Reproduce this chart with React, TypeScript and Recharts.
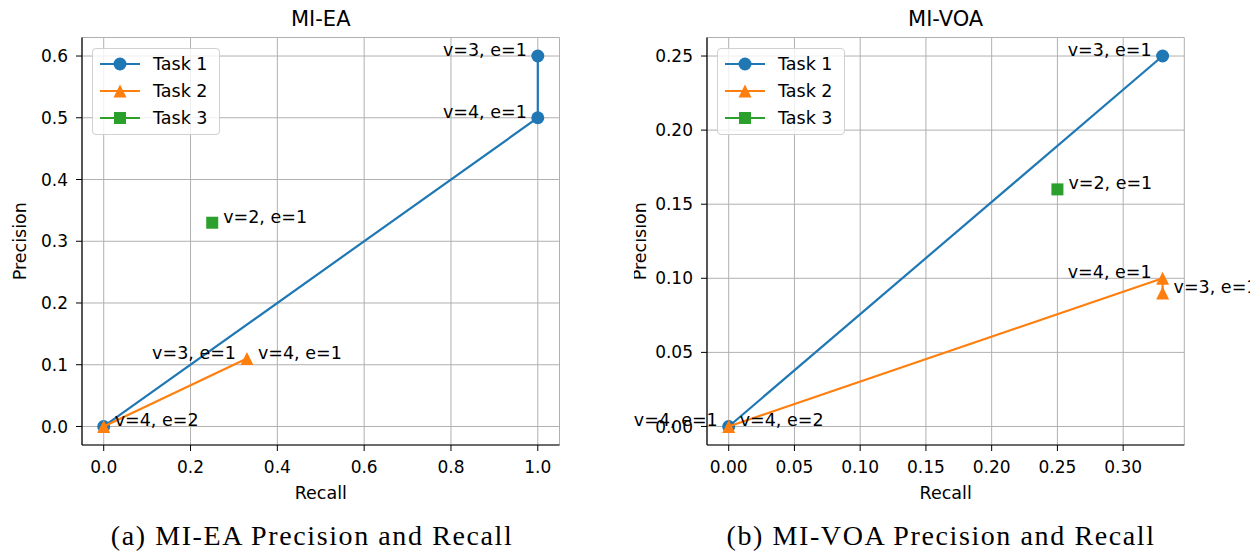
import React from "react";
import { ScatterChart, Scatter, XAxis, YAxis, CartesianGrid, Label } from "recharts";

const BLUE = "#1f77b4";
const ORANGE = "#ff7f0e";
const GREEN = "#2ca02c";
const FONT = "'DejaVu Sans', sans-serif";

// MI-EA (left panel)
const eaTask1 = [{ x: 0, y: 0 }, { x: 1, y: 0.5 }, { x: 1, y: 0.6 }];
const eaTask2 = [{ x: 0, y: 0 }, { x: 0.33, y: 0.11 }];
const eaTask3 = [{ x: 0.25, y: 0.33 }];
const eaNotesLeft = [
  { x: 1, y: 0.6, text: "v=3, e=1" },
  { x: 1, y: 0.5, text: "v=4, e=1" },
  { x: 0.33, y: 0.11, text: "v=3, e=1" },
];
const eaNotesRight = [
  { x: 0, y: 0, text: "v=4, e=2" },
  { x: 0.33, y: 0.11, text: "v=4, e=1" },
  { x: 0.25, y: 0.33, text: "v=2, e=1" },
];
const eaXTicks = [0, 0.2, 0.4, 0.6, 0.8, 1.0];
const eaYTicks = [0, 0.1, 0.2, 0.3, 0.4, 0.5, 0.6];

// MI-VOA (right panel)
const voaTask1 = [{ x: 0, y: 0 }, { x: 0.33, y: 0.25 }];
const voaTask2 = [{ x: 0, y: 0 }, { x: 0.33, y: 0.1 }, { x: 0.33, y: 0.09 }];
const voaTask3 = [{ x: 0.25, y: 0.16 }];
const voaNotesLeft = [
  { x: 0.33, y: 0.25, text: "v=3, e=1" },
  { x: 0, y: 0, text: "v=4, e=1" },
  { x: 0.33, y: 0.1, text: "v=4, e=1" },
];
const voaNotesRight = [
  { x: 0, y: 0, text: "v=4, e=2" },
  { x: 0.33, y: 0.09, text: "v=3, e=1" },
  { x: 0.25, y: 0.16, text: "v=2, e=1" },
];
const voaXTicks = [0, 0.05, 0.1, 0.15, 0.2, 0.25, 0.3];
const voaYTicks = [0, 0.05, 0.1, 0.15, 0.2, 0.25];

const taskNames = ["Task 1", "Task 2", "Task 3"];
const taskColors = [BLUE, ORANGE, GREEN];
const taskMarkers = ["circle", "triangle", "square"];

function Marker({ kind, cx, cy, color }: any) {
  if (kind === "circle") return <circle cx={cx} cy={cy} r={6.5} fill={color} />;
  if (kind === "triangle")
    return <polygon points={`${cx},${cy - 6.5} ${cx - 6.5},${cy + 6.5} ${cx + 6.5},${cy + 6.5}`} fill={color} />;
  return <rect x={cx - 6} y={cy - 6} width={12} height={12} fill={color} />;
}

const noteShape = (side: "left" | "right") => (p: any) => (
  <text
    x={p.cx + (side === "left" ? -11 : 11)}
    y={p.cy}
    textAnchor={side === "left" ? "end" : "start"}
    fontSize={17.5}
    fontFamily={FONT}
    fill="#000"
  >
    {p.payload.text}
  </text>
);

function Legend({ left, top }: any) {
  return (
    <div
      style={{
        position: "absolute",
        left,
        top,
        width: 128,
        height: 87,
        boxSizing: "border-box",
        border: "1px solid #d0d0d0",
        borderRadius: 4,
        background: "rgba(255,255,255,0.8)",
      }}
    >
      {taskNames.map((name, i) => (
        <div key={name} style={{ position: "absolute", left: 0, top: 4 + i * 27, height: 22, width: 128 }}>
          <svg width={50} height={22} style={{ position: "absolute", left: 5, top: 0 }}>
            <line x1={2} y1={11} x2={42} y2={11} stroke={taskColors[i]} strokeWidth={2.2} />
            <Marker kind={taskMarkers[i]} cx={22} cy={11} color={taskColors[i]} />
          </svg>
          <span
            style={{
              position: "absolute",
              left: 60,
              top: 0,
              lineHeight: "22px",
              fontSize: 17.5,
              fontFamily: FONT,
              color: "#000",
            }}
          >
            {name}
          </span>
        </div>
      ))}
    </div>
  );
}

function Panel(props: any) {
  const {
    title, tasks, notesLeft, notesRight, xTicks, yTicks, xDomain, yDomain, digits,
    left, width, yAxisWidth, marginLeft, marginRight,
  } = props;
  const plotLeft = marginLeft + yAxisWidth;
  const plotRight = width - marginRight;
  const fmt = (v: number) => v.toFixed(digits);
  const tickStyle = { fill: "#000", fontSize: 17, fontFamily: FONT };
  return (
    <div style={{ position: "absolute", left, top: 0, width, height: 552, overflow: "hidden" }}>
      <div
        style={{
          position: "absolute",
          left: plotLeft,
          width: plotRight - plotLeft,
          top: 6,
          textAlign: "center",
          fontSize: 21,
          fontFamily: FONT,
          color: "#000",
          lineHeight: "26px",
        }}
      >
        {title}
      </div>
      <ScatterChart
        width={width}
        height={505}
        margin={{ top: 37.5, right: marginRight, bottom: 0, left: marginLeft }}
        style={{ position: "absolute", left: 0, top: 0 }}
      >
        <CartesianGrid stroke="#b0b0b0" strokeWidth={1} />
        <XAxis
          type="number"
          dataKey="x"
          domain={xDomain}
          ticks={xTicks}
          tickFormatter={fmt}
          height={60}
          tick={tickStyle}
          tickSize={6}
          tickMargin={10}
          tickLine={{ stroke: "#000" }}
          axisLine={{ stroke: "#000", strokeWidth: 1.2 }}
          interval={0}
        >
          <Label value="Recall" position="insideBottom" offset={6.5} fill="#000" fontSize={17.5} fontFamily={FONT} />
        </XAxis>
        <YAxis
          type="number"
          dataKey="y"
          domain={yDomain}
          ticks={yTicks}
          tickFormatter={fmt}
          width={yAxisWidth}
          tick={tickStyle}
          tickSize={6}
          tickMargin={8}
          tickLine={{ stroke: "#000" }}
          axisLine={{ stroke: "#000", strokeWidth: 1.2 }}
          interval={0}
        >
          <Label
            value="Precision"
            angle={-90}
            position="insideLeft"
            offset={0}
            fill="#000"
            fontSize={17.5}
            fontFamily={FONT}
            style={{ textAnchor: "middle" }}
          />
        </YAxis>
        <XAxis
          xAxisId="top"
          orientation="top"
          type="number"
          dataKey="x"
          domain={xDomain}
          height={0}
          tick={false}
          tickLine={false}
          axisLine={{ stroke: "#000", strokeWidth: 1.2 }}
        />
        <YAxis
          yAxisId="right"
          orientation="right"
          type="number"
          dataKey="y"
          domain={yDomain}
          width={0}
          tick={false}
          tickLine={false}
          axisLine={{ stroke: "#000", strokeWidth: 1.2 }}
        />
        {tasks.map((t: any) => (
          <Scatter
            key={t.name}
            name={t.name}
            data={t.data}
            fill={t.color}
            line={{ stroke: t.color, strokeWidth: 2.2 }}
            lineType="joint"
            shape={(p: any) => <Marker kind={t.marker} cx={p.cx} cy={p.cy} color={t.color} />}
            isAnimationActive={false}
          />
        ))}
        <Scatter data={notesLeft} shape={noteShape("left")} isAnimationActive={false} />
        <Scatter data={notesRight} shape={noteShape("right")} isAnimationActive={false} />
      </ScatterChart>
      <Legend left={plotLeft + 10} top={48} />
    </div>
  );
}

const buildTasks = (series: any[]) =>
  series.map((data, i) => ({ name: taskNames[i], data, color: taskColors[i], marker: taskMarkers[i] }));

export default function App() {
  const captionStyle: any = {
    position: "absolute",
    top: 520,
    width: 600,
    textAlign: "center",
    fontFamily: "'Liberation Serif', serif",
    fontSize: 28,
    letterSpacing: 1.6,
    lineHeight: "32px",
    color: "#000",
    whiteSpace: "nowrap",
  };
  return (
    <div style={{ position: "absolute", left: 0, top: 0, width: 1250, height: 552, background: "#fff", overflow: "hidden" }}>
      <Panel
        title="MI-EA"
        tasks={buildTasks([eaTask1, eaTask2, eaTask3])}
        notesLeft={eaNotesLeft}
        notesRight={eaNotesRight}
        xTicks={eaXTicks}
        yTicks={eaYTicks}
        xDomain={[-0.05, 1.05]}
        yDomain={[-0.03, 0.63]}
        digits={1}
        left={0}
        width={612}
        yAxisWidth={62}
        marginLeft={20}
        marginRight={52.5}
      />
      <Panel
        title="MI-VOA"
        tasks={buildTasks([voaTask1, voaTask2, voaTask3])}
        notesLeft={voaNotesLeft}
        notesRight={voaNotesRight}
        xTicks={voaXTicks}
        yTicks={voaYTicks}
        xDomain={[-0.0165, 0.3465]}
        yDomain={[-0.0125, 0.2625]}
        digits={2}
        left={634}
        width={616}
        yAxisWidth={67}
        marginLeft={6}
        marginRight={65.7}
      />
      <div style={{ ...captionStyle, left: 312 - 300 }}>(a) MI-EA Precision and Recall</div>
      <div style={{ ...captionStyle, left: 941 - 300 }}>(b) MI-VOA Precision and Recall</div>
    </div>
  );
}
